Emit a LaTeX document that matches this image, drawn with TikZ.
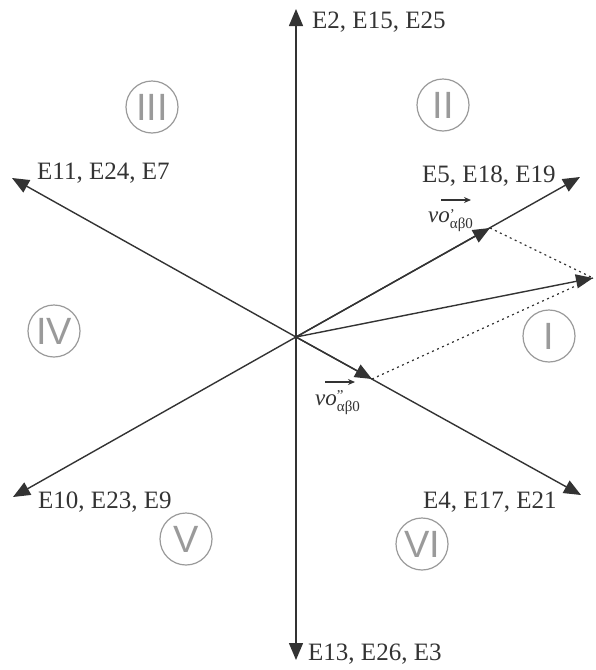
\documentclass[tikz,border=0pt]{standalone}
\usepackage{fontspec}
\setmainfont{Liberation Serif}
\newfontfamily\numfont{Liberation Sans}
\usetikzlibrary{arrows.meta}
\definecolor{linec}{HTML}{333333}
\definecolor{txtc}{HTML}{333333}
\definecolor{zonec}{HTML}{9A9A9A}
\begin{document}
\begin{tikzpicture}[x=1pt,y=-1pt,
 vec/.style={draw=linec, line width=1.4pt, -{Triangle[length=17pt,width=14pt]}},
 helper/.style={draw=linec, line width=1.2pt, dash pattern=on 2pt off 3.5pt},
 elabel/.style={text=txtc, font=\fontsize{25}{25}\selectfont, inner sep=0pt, anchor=base west},
 zone/.style={circle, draw=zonec, line width=1.2pt, minimum size=52pt, inner sep=0pt, text=zonec, font=\numfont\fontsize{38}{38}\selectfont},
 vlabel/.style={text=txtc, inner sep=0pt, anchor=base west, font=\fontsize{23}{23}\selectfont\itshape},
 over/.style={draw=txtc, line width=1.1pt, -{Stealth[length=7pt,width=6pt]}}]
\useasboundingbox (0,0) rectangle (595,670);
% points
\coordinate (O) at (296,337);
\coordinate (A2) at (296,9);
\coordinate (A13) at (296,660);
\coordinate (A5) at (580,177);
\coordinate (A4) at (581,495);
\coordinate (A11) at (12,178);
\coordinate (A10) at (13,497);
\coordinate (R) at (593,278);
\coordinate (P1) at (490,228);
\coordinate (P2) at (372,379);
% axes
\draw[vec] (O) -- (A2);
\draw[vec] (O) -- (A13);
\draw[vec] (O) -- (A5);
\draw[vec] (O) -- (A4);
\draw[vec] (O) -- (A11);
\draw[vec] (O) -- (A10);
% components and resultant
\draw[vec] (O) -- (P1);
\draw[vec] (O) -- (P2);
\draw[vec] (O) -- (R);
\draw[helper] (P1) -- (R);
\draw[helper] (P2) -- (R);
% labels
\node[elabel] (L2) at (312,28) {E2, E15, E25};
\node[elabel] (L13) at (308,660) {E13, E26, E3};
\node[elabel] (L5) at (422,182) {E5, E18, E19};
\node[elabel] (L11) at (37,179) {E11, E24, E7};
\node[elabel] (L10) at (38,508) {E10, E23, E9};
\node[elabel] (L4) at (423,508) {E4, E17, E21};
% zones
\node[zone] (Z1) at (549,336) {I};
\node[zone] (Z2) at (443,105) {II};
\node[zone] (Z3) at (152,107) {III};
\node[zone] (Z4) at (54,331) {IV};
\node[zone] (Z5) at (186,539) {V};
\node[zone] (Z6) at (422,544) {VI};
% vector labels
\node[vlabel] (V1) at (428,222) {vo\rlap{\raisebox{3pt}{\fontsize{15}{15}\selectfont\upshape ’}}\raisebox{-6pt}{\fontsize{15}{15}\selectfont\upshape αβ0}};
\draw[over] ([shift={(13,-22)}]V1.base west) -- ([shift={(43,-22)}]V1.base west);
\node[vlabel] (V2) at (315,405) {vo\rlap{\raisebox{5pt}{\fontsize{15}{15}\selectfont\upshape ”}}\raisebox{-6pt}{\fontsize{15}{15}\selectfont\upshape αβ0}};
\draw[over] ([shift={(10,-23)}]V2.base west) -- ([shift={(40,-23)}]V2.base west);
\end{tikzpicture}
\end{document}
